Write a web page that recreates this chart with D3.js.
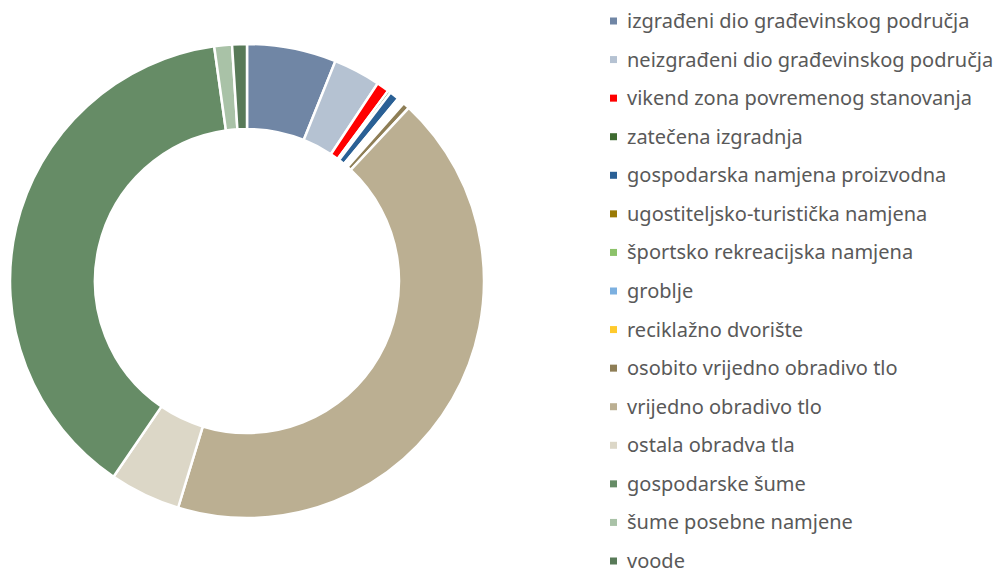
<!DOCTYPE html>
<html>
<head>
<meta charset="utf-8">
<script src="https://cdn.jsdelivr.net/npm/d3@7"></script>
<style>
  body { margin: 0; background: #fff; }
  text { font-family: 'Noto Sans', sans-serif; }
</style>
</head>
<body>
<div id="chart"></div>
<script>
let categories = [
  'izgrađeni dio građevinskog područja',
  'neizgrađeni dio građevinskog područja',
  'vikend zona povremenog stanovanja',
  'zatečena izgradnja',
  'gospodarska namjena proizvodna',
  'ugostiteljsko-turistička namjena',
  'športsko rekreacijska namjena',
  'groblje',
  'reciklažno dvorište',
  'osobito vrijedno obradivo tlo',
  'vrijedno obradivo tlo',
  'ostala obradva tla',
  'gospodarske šume',
  'šume posebne namjene',
  'voode'
]

// share of area, %
let values = [6.05, 3.2, 0.85, 0.2, 0.65, 0.12, 0.15, 0.12, 0.1, 0.45, 42.5, 4.8, 38.05, 1.2, 1.0]

let colors = [
  '#7086a5', '#b5c2d2', '#ff0000', '#3e6b31', '#2a6095',
  '#9a7a05', '#8cc26a', '#7cb0e0', '#ffca2c', '#8e7e56',
  '#bbaf92', '#dcd7c7', '#668c66', '#a9c2a7', '#587a58'
]

let width = 1006
let height = 575

let svg = d3.select('#chart')
  .append('svg')
  .attr('width', width)
  .attr('height', height)

let outerRadius = 237
let innerRadius = 152

let pie = d3.pie().sort(null).value(d => d.value)
let arc = d3.arc().innerRadius(innerRadius).outerRadius(outerRadius)

let data = categories.map((c, i) => ({ name: c, value: values[i], color: colors[i] }))

svg.append('g')
  .attr('transform', 'translate(247,281)')
  .selectAll('path')
  .data(pie(data))
  .enter()
  .append('path')
  .attr('d', arc)
  .attr('fill', d => d.data.color)
  .attr('stroke', '#fff')
  .attr('stroke-width', 2.5)

let legendScale = d3.scalePoint().domain(categories).range([21, 561])

let legend = svg.append('g').attr('transform', 'translate(610,0)')

legend.selectAll('g')
  .data(data)
  .enter().append('g')
  .attr('transform', d => `translate(0,${legendScale(d.name)})`)
  .each(function(d) {
    let group = d3.select(this)
    group.append('rect')
      .attr('x', 0).attr('y', -3.5)
      .attr('width', 7).attr('height', 7)
      .attr('fill', d.color)
    group.append('text')
      .text(d.name)
      .attr('x', 17)
      .attr('dy', '0.35em')
      .attr('font-size', 20)
      .attr('fill', '#595959')
  })
</script>
</body>
</html>
